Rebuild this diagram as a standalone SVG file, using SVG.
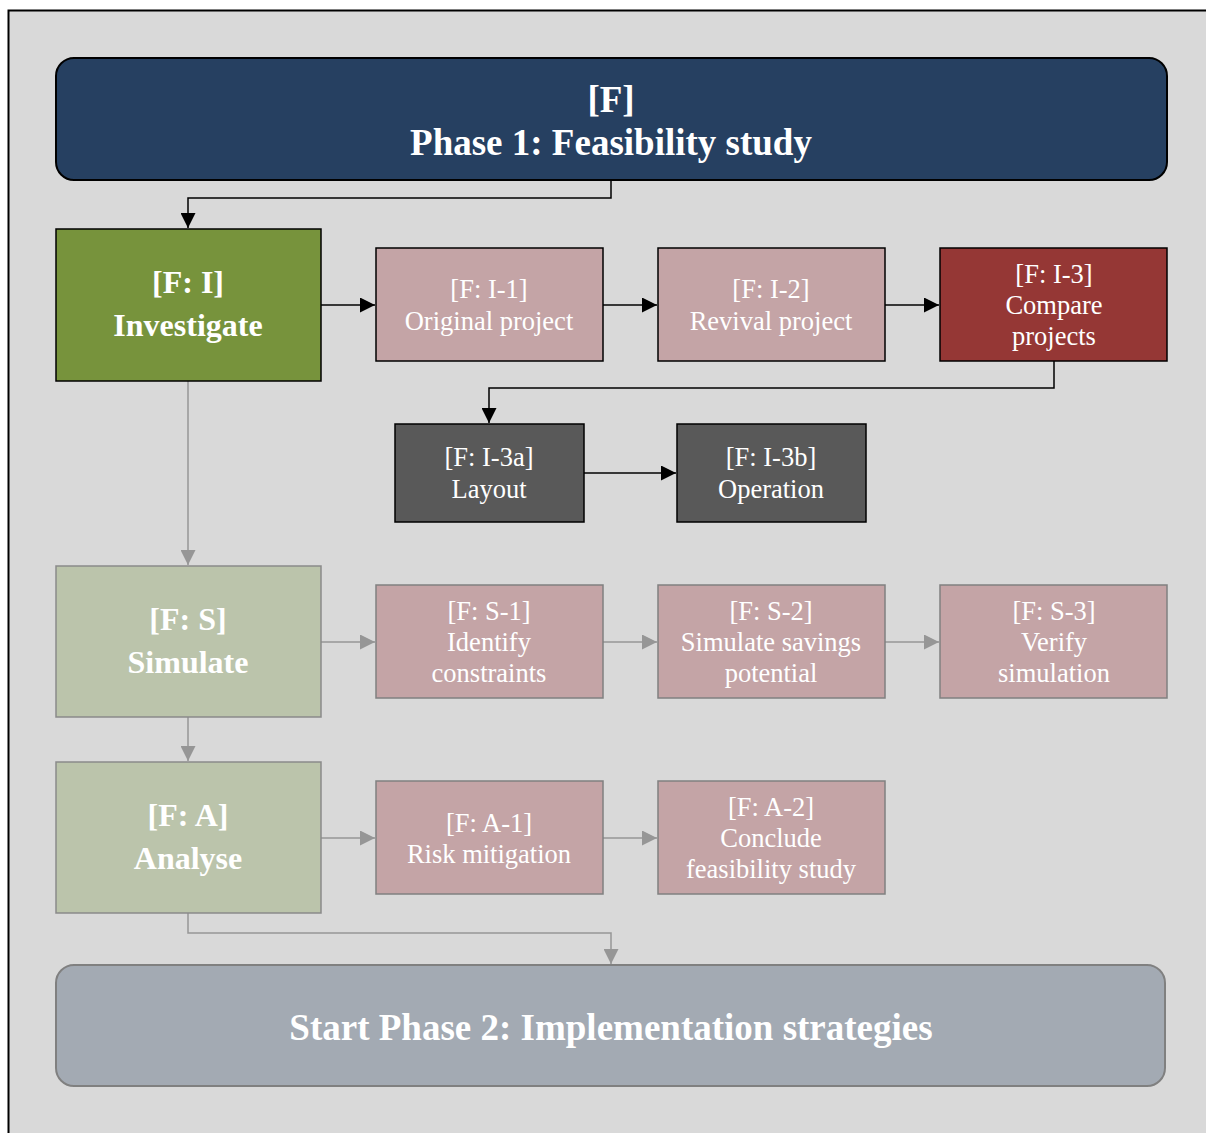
<svg xmlns="http://www.w3.org/2000/svg" width="1206" height="1133" viewBox="0 0 1206 1133">
<style>
text{font-family:"Liberation Serif","Times New Roman",serif;fill:#ffffff;text-anchor:middle}
.b{font-weight:bold}
.t{font-size:37px}
.m{font-size:32px}
.s{font-size:26.5px}
.bk{stroke:#000;stroke-width:1.5;fill:none}
.gy{stroke:#969696;stroke-width:1.5;fill:none}
.pink{fill:#c4a4a6}
</style>
<defs>
<marker id="ab" markerWidth="15" markerHeight="15" refX="15" refY="7.5" orient="auto" markerUnits="userSpaceOnUse" viewBox="0 0 15 15"><path d="M0,0L15,7.5L0,15z" fill="#000"/></marker>
<marker id="ag" markerWidth="15" markerHeight="15" refX="15" refY="7.5" orient="auto" markerUnits="userSpaceOnUse" viewBox="0 0 15 15"><path d="M0,0L15,7.5L0,15z" fill="#969696"/></marker>
</defs>
<rect x="0" y="0" width="1206" height="1133" fill="#ffffff"/>
<rect x="8.5" y="10.5" width="1300" height="1200" fill="#d9d9d9" stroke="#000" stroke-width="2"/>

<g id="connectors">
<path class="bk" d="M611,180V198H188V228" marker-end="url(#ab)"/>
<path class="bk" d="M321,305H375" marker-end="url(#ab)"/>
<path class="bk" d="M603,305H657" marker-end="url(#ab)"/>
<path class="bk" d="M885,305H939" marker-end="url(#ab)"/>
<path class="bk" d="M1054,361V388H489V423" marker-end="url(#ab)"/>
<path class="bk" d="M584,473H676" marker-end="url(#ab)"/>
<path class="gy" d="M188,381V565" marker-end="url(#ag)"/>
<path class="gy" d="M321,642H375" marker-end="url(#ag)"/>
<path class="gy" d="M603,642H657" marker-end="url(#ag)"/>
<path class="gy" d="M885,642H939" marker-end="url(#ag)"/>
<path class="gy" d="M188,717V761" marker-end="url(#ag)"/>
<path class="gy" d="M321,838H375" marker-end="url(#ag)"/>
<path class="gy" d="M603,838H657" marker-end="url(#ag)"/>
<path class="gy" d="M188,913V933H611V964" marker-end="url(#ag)"/>
</g>

<g id="phase1">
<rect x="56" y="58" width="1111" height="122" rx="18" fill="#264061" stroke="#000" stroke-width="2"/>
<text class="b t" x="611" y="112">[F]</text>
<text class="b t" x="611" y="155">Phase 1: Feasibility study</text>
</g>

<g id="investigate">
<rect x="56" y="229" width="265" height="152" fill="#77933c" stroke="#000" stroke-width="1.5"/>
<text class="b m" x="188" y="293">[F: I]</text>
<text class="b m" x="188" y="336">Investigate</text>
</g>
<g id="i1">
<rect class="pink" x="376" y="248" width="227" height="113" stroke="#000" stroke-width="1.5"/>
<text class="s" x="489" y="298">[F: I-1]</text>
<text class="s" x="489" y="330">Original project</text>
</g>
<g id="i2">
<rect class="pink" x="658" y="248" width="227" height="113" stroke="#000" stroke-width="1.5"/>
<text class="s" x="771" y="298">[F: I-2]</text>
<text class="s" x="771" y="330">Revival project</text>
</g>
<g id="i3">
<rect x="940" y="248" width="227" height="113" fill="#953735" stroke="#000" stroke-width="1.5"/>
<text class="s" x="1054" y="283">[F: I-3]</text>
<text class="s" x="1054" y="314">Compare</text>
<text class="s" x="1054" y="345">projects</text>
</g>
<g id="i3a">
<rect x="395" y="424" width="189" height="98" fill="#595959" stroke="#000" stroke-width="1.5"/>
<text class="s" x="489" y="466">[F: I-3a]</text>
<text class="s" x="489" y="498">Layout</text>
</g>
<g id="i3b">
<rect x="677" y="424" width="189" height="98" fill="#595959" stroke="#000" stroke-width="1.5"/>
<text class="s" x="771" y="466">[F: I-3b]</text>
<text class="s" x="771" y="498">Operation</text>
</g>

<g id="simulate">
<rect x="56" y="566" width="265" height="151" fill="#bbc4ab" stroke="#8a8a8a" stroke-width="1.5"/>
<text class="b m" x="188" y="630">[F: S]</text>
<text class="b m" x="188" y="673">Simulate</text>
</g>
<g id="s1">
<rect class="pink" x="376" y="585" width="227" height="113" stroke="#808080" stroke-width="1.5"/>
<text class="s" x="489" y="620">[F: S-1]</text>
<text class="s" x="489" y="651">Identify</text>
<text class="s" x="489" y="682">constraints</text>
</g>
<g id="s2">
<rect class="pink" x="658" y="585" width="227" height="113" stroke="#808080" stroke-width="1.5"/>
<text class="s" x="771" y="620">[F: S-2]</text>
<text class="s" x="771" y="651">Simulate savings</text>
<text class="s" x="771" y="682">potential</text>
</g>
<g id="s3">
<rect class="pink" x="940" y="585" width="227" height="113" stroke="#808080" stroke-width="1.5"/>
<text class="s" x="1054" y="620">[F: S-3]</text>
<text class="s" x="1054" y="651">Verify</text>
<text class="s" x="1054" y="682">simulation</text>
</g>

<g id="analyse">
<rect x="56" y="762" width="265" height="151" fill="#bbc4ab" stroke="#8a8a8a" stroke-width="1.5"/>
<text class="b m" x="188" y="826">[F: A]</text>
<text class="b m" x="188" y="869">Analyse</text>
</g>
<g id="a1">
<rect class="pink" x="376" y="781" width="227" height="113" stroke="#808080" stroke-width="1.5"/>
<text class="s" x="489" y="832">[F: A-1]</text>
<text class="s" x="489" y="863">Risk mitigation</text>
</g>
<g id="a2">
<rect class="pink" x="658" y="781" width="227" height="113" stroke="#808080" stroke-width="1.5"/>
<text class="s" x="771" y="816">[F: A-2]</text>
<text class="s" x="771" y="847">Conclude</text>
<text class="s" x="771" y="878">feasibility study</text>
</g>

<g id="phase2">
<rect x="56" y="965" width="1109" height="121" rx="18" fill="#a3aab3" stroke="#808080" stroke-width="2"/>
<text class="b t" x="611" y="1040">Start Phase 2: Implementation strategies</text>
</g>
</svg>
